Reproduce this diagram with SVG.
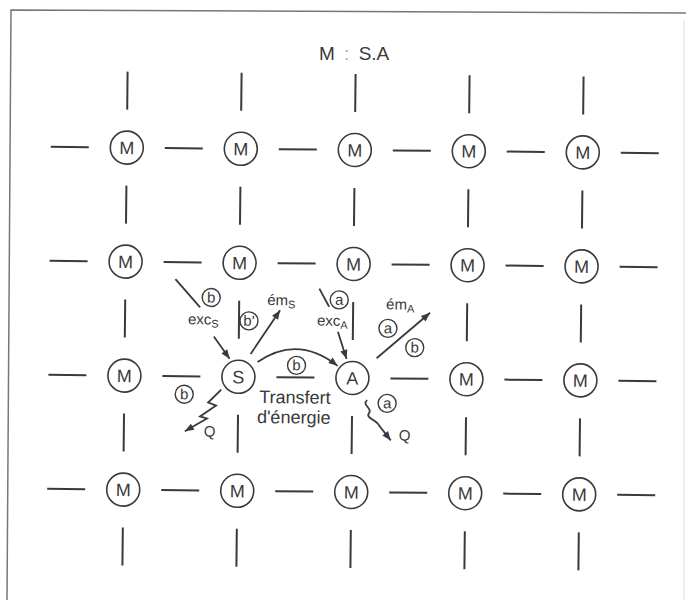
<svg xmlns="http://www.w3.org/2000/svg" width="686" height="600" viewBox="0 0 686 600">
  <style>
    .ln { stroke: #3a3a3a; stroke-width: 2; fill: none; }
    .nd circle { fill: #fff; stroke: #3a3a3a; stroke-width: 1.6; }
    .nd text, .tx { font-family: "Liberation Sans", Arial, sans-serif; fill: #3a3a3a; }
    .nd text { font-size: 18px; text-anchor: middle; }
    .tag circle { fill: #fff; stroke: #3a3a3a; stroke-width: 1.4; }
    .tag text { font-family: "Liberation Sans", Arial, sans-serif; fill: #3a3a3a; font-size: 15px; text-anchor: middle; }
    .ar { stroke: #3a3a3a; stroke-width: 1.8; fill: none; marker-end: url(#ah); }
    .sub { font-size: 11px; }
  </style>
  <defs>
    <marker id="ah" viewBox="0 0 10 10" refX="10" refY="5" markerWidth="11" markerHeight="9" markerUnits="userSpaceOnUse" orient="auto">
      <path d="M0,1 L10,5 L0,9 z" fill="#3a3a3a"/>
    </marker>
  </defs>
  <rect width="686" height="600" fill="#fff"/>

  <!-- frame -->
  <path d="M686 13 L11 10 L7 600" fill="none" stroke="#777" stroke-width="1.5"/>
  <line x1="684" y1="20" x2="684" y2="600" stroke="#ddd" stroke-width="1"/>

  <text class="tx" x="319" y="60" font-size="19" word-spacing="4">M <tspan fill="#aaa">:</tspan> S.A</text>

  <g id="lattice" transform="rotate(0.6 353 321)">
    <g id="connectors" class="ln">
      <!-- horizontal bonds -->
      <path d="M49 150h38M163 150h38M277 150h38M391 150h38M505 150h38M619 150h38"/>
      <path d="M49 264h38M163 264h38M277 264h38M391 264h38M505 264h38M619 264h38"/>
      <path d="M49 378h38M163 378h38M277 378h38M391 378h38M505 378h38M619 378h38"/>
      <path d="M49 492h38M163 492h38M277 492h38M391 492h38M505 492h38M619 492h38"/>
      <!-- vertical bonds -->
      <path d="M125 74v38M125 188v38M125 302v38M125 416v38M125 530v38"/>
      <path d="M239 74v38M239 188v38M239 302v38M239 416v38M239 530v38"/>
      <path d="M353 74v38M353 188v38M353 302v38M353 416v38M353 530v38"/>
      <path d="M467 74v38M467 188v38M467 302v38M467 416v38M467 530v38"/>
      <path d="M581 74v38M581 188v38M581 302v38M581 416v38M581 530v38"/>
    </g>

    <!-- row 1 -->
    <g id="m-1-1" class="nd"><circle cx="125" cy="150" r="16.5"/><text x="125" y="156.5">M</text></g>
    <g id="m-1-2" class="nd"><circle cx="239" cy="150" r="16.5"/><text x="239" y="156.5">M</text></g>
    <g id="m-1-3" class="nd"><circle cx="353" cy="150" r="16.5"/><text x="353" y="156.5">M</text></g>
    <g id="m-1-4" class="nd"><circle cx="467" cy="150" r="16.5"/><text x="467" y="156.5">M</text></g>
    <g id="m-1-5" class="nd"><circle cx="581" cy="150" r="16.5"/><text x="581" y="156.5">M</text></g>
    <!-- row 2 -->
    <g id="m-2-1" class="nd"><circle cx="125" cy="264" r="16.5"/><text x="125" y="270.5">M</text></g>
    <g id="m-2-2" class="nd"><circle cx="239" cy="264" r="16.5"/><text x="239" y="270.5">M</text></g>
    <g id="m-2-3" class="nd"><circle cx="353" cy="264" r="16.5"/><text x="353" y="270.5">M</text></g>
    <g id="m-2-4" class="nd"><circle cx="467" cy="264" r="16.5"/><text x="467" y="270.5">M</text></g>
    <g id="m-2-5" class="nd"><circle cx="581" cy="264" r="16.5"/><text x="581" y="270.5">M</text></g>
    <!-- row 3 -->
    <g id="m-3-1" class="nd"><circle cx="125" cy="378" r="16.5"/><text x="125" y="384.5">M</text></g>
    <g id="node-S" class="nd"><circle cx="239" cy="378" r="16.5"/><text x="239" y="384.5">S</text></g>
    <g id="node-A" class="nd"><circle cx="353" cy="378" r="16.5"/><text x="353" y="384.5">A</text></g>
    <g id="m-3-4" class="nd"><circle cx="467" cy="378" r="16.5"/><text x="467" y="384.5">M</text></g>
    <g id="m-3-5" class="nd"><circle cx="581" cy="378" r="16.5"/><text x="581" y="384.5">M</text></g>
    <!-- row 4 -->
    <g id="m-4-1" class="nd"><circle cx="125" cy="492" r="16.5"/><text x="125" y="498.5">M</text></g>
    <g id="m-4-2" class="nd"><circle cx="239" cy="492" r="16.5"/><text x="239" y="498.5">M</text></g>
    <g id="m-4-3" class="nd"><circle cx="353" cy="492" r="16.5"/><text x="353" y="498.5">M</text></g>
    <g id="m-4-4" class="nd"><circle cx="467" cy="492" r="16.5"/><text x="467" y="498.5">M</text></g>
    <g id="m-4-5" class="nd"><circle cx="581" cy="492" r="16.5"/><text x="581" y="498.5">M</text></g>

    <!-- excitation, emission and transfer processes -->
    <g id="processes">
      <!-- excitation of S -->
      <line x1="175" y1="281" x2="200" y2="309" stroke="#3a3a3a" stroke-width="1.8"/>
      <line class="ar" x1="214" y1="338" x2="230" y2="360"/>
      <g class="tag"><circle cx="211" cy="299" r="9"/><text x="211" y="304">b</text></g>
      <text class="tx" x="188" y="326" font-size="15">exc<tspan class="sub" dy="3">S</tspan></text>

      <!-- emission of S -->
      <line class="ar" x1="251" y1="355" x2="280" y2="311"/>
      <g class="tag"><circle cx="249" cy="322" r="9"/><text x="249" y="327">b'</text></g>
      <text class="tx" x="267" y="306" font-size="15">ém<tspan class="sub" dy="3">S</tspan></text>

      <!-- energy transfer S to A -->
      <path class="ar" d="M258 363 Q298 335 338 366"/>
      <g class="tag"><circle cx="297" cy="366" r="9"/><text x="297" y="371">b</text></g>
      <text class="tx" x="260" y="404" font-size="18">Transfert</text>
      <text class="tx" x="258" y="424" font-size="18">d'énergie</text>

      <!-- excitation of A -->
      <line x1="319" y1="289" x2="329" y2="307" stroke="#3a3a3a" stroke-width="1.8"/>
      <line class="ar" x1="338" y1="332" x2="347" y2="359"/>
      <g class="tag"><circle cx="339" cy="300" r="9"/><text x="339" y="305">a</text></g>
      <text class="tx" x="317" y="326" font-size="15">exc<tspan class="sub" dy="3">A</tspan></text>

      <!-- emission of A -->
      <line class="ar" x1="377" y1="358" x2="430" y2="312"/>
      <text class="tx" x="386" y="309" font-size="15">ém<tspan class="sub" dy="3">A</tspan></text>
      <g class="tag"><circle cx="388" cy="328" r="9"/><text x="388" y="333">a</text></g>
      <g class="tag"><circle cx="415" cy="347" r="9"/><text x="415" y="352">b</text></g>

      <!-- heat loss from S -->
      <g class="tag"><circle cx="185" cy="396" r="9"/><text x="185" y="401">b</text></g>
      <path class="ar" d="M222 391 L209 404 L217 407 L201 418 L208 420 L186 433"/>
      <text class="tx" x="205" y="438" font-size="15">Q</text>

      <!-- heat loss from A -->
      <g class="tag"><circle cx="388" cy="403" r="9"/><text x="388" y="408">a</text></g>
      <path class="ar" d="M368 400 C362 405 374 408 370 413 C366 418 378 420 380 425 L392 440"/>
      <text class="tx" x="400" y="440" font-size="15">Q</text>
    </g>
  </g>
</svg>
